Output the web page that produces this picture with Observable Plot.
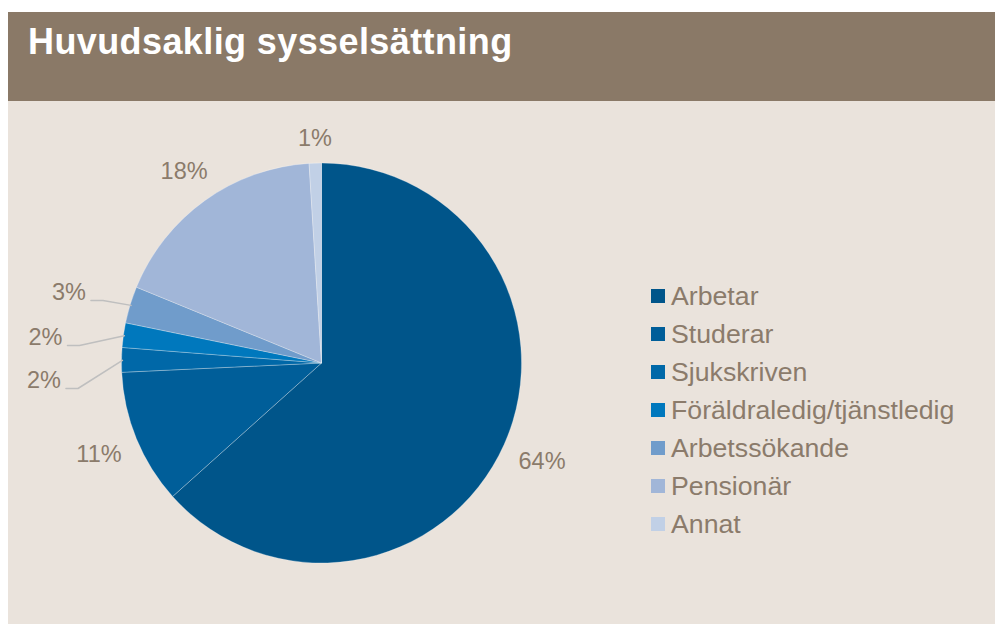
<!DOCTYPE html>
<html><head><meta charset="utf-8">
<script src="https://cdn.jsdelivr.net/npm/d3@7"></script>
<script src="https://cdn.jsdelivr.net/npm/@observablehq/plot@0.6"></script>
<style>
body{margin:0;background:#fff;font-family:"Liberation Sans",Arial,sans-serif;}
#wrap{position:absolute;left:8px;top:12px;width:987px;height:612px;background:#EAE3DC;overflow:hidden}
#title{position:absolute;left:0;top:0;width:987px;height:89px;background:#8A7967;}
#title span{position:absolute;left:20px;top:12px;font-weight:bold;font-size:36px;line-height:36px;letter-spacing:0.4px;color:#fff;white-space:nowrap}
#chart{position:absolute;left:0;top:89px}
.sw{position:absolute;width:14px;height:14px}
.lt{position:absolute;font-size:26.7px;line-height:26px;color:#8B7B6B;white-space:nowrap}
</style></head><body>
<div id="wrap"><div id="title"><span>Huvudsaklig sysselsättning</span></div><div id="chart"></div><div id="legend"></div></div>
<script>
// ---- data ----
const categories = ["Arbetar","Studerar","Sjukskriven","Föräldraledig/tjänstledig","Arbetssökande","Pensionär","Annat"];
const values = [64, 11, 2, 2, 3, 18, 1];
const colors = ["#00558A","#005E99","#0068A8","#0078BD","#709CCB","#A1B6D8","#C1D0E6"];
// manual label placement (unit-circle coordinates) for crowded small slices
const labelOverrides = {
  "Sjukskriven": [-1.39, -0.0825],
  "Föräldraledig/tjänstledig": [-1.3825, 0.1325],
  "Arbetssökande": [-1.265, 0.3575]
};

// ---- layout ----
const W = 987, H = 523, cx = 313.5, cy = 262, R = 200, FS = 23.5;
const labelColor = "#8B7B6B";

const rows = categories.map((c, i) => ({category: c, value: values[i], color: colors[i], label: values[i] + "%"}));
const arcs = d3.pie().sort(null).value(d => d.value)(rows);

const labelRows = [];
const leaderRows = [];
arcs.forEach((a, i) => {
  const mid = (a.startAngle + a.endAngle) / 2;
  const sx = Math.sin(mid), sy = Math.cos(mid);
  const txt = a.data.label;
  const halfW = ((txt.length - 1) * 0.556 + 0.889) * FS / 2;
  const halfH = 8.5;
  const ov = labelOverrides[a.data.category];
  if (ov) {
    labelRows.push({x: ov[0], y: ov[1], label: txt});
    const x1 = ov[0] + (halfW + 5) / R, y1 = ov[1] - halfH / R;
    const x2 = x1 + 12 / R;
    leaderRows.push({id: i, x: x1, y: y1}, {id: i, x: x2, y: y1}, {id: i, x: sx * 0.998, y: sy * 0.998});
  } else {
    const r = 1.08 + (Math.abs(sx) * halfW + Math.abs(sy) * halfH) / R;
    labelRows.push({x: sx * r, y: sy * r, label: txt});
  }
});

function pieMark(index, scales) {
  const fx = scales && scales.x ? scales.x : (v => cx + v * R);
  const fy = scales && scales.y ? scales.y : (v => cy - v * R);
  const x0 = fx(0), y0 = fy(0), r = fx(1) - x0;
  const arc = d3.arc().innerRadius(0).outerRadius(r);
  const g = d3.create("svg:g").attr("transform", `translate(${x0},${y0})`);
  g.selectAll("path").data(arcs).join("path")
    .attr("d", arc)
    .attr("fill", d => d.data.color)
    .attr("stroke", "#ffffff")
    .attr("stroke-opacity", 0.35)
    .attr("stroke-width", 0.8);
  return g.node();
}

const chart = Plot.plot({
  width: W, height: H, margin: 0,
  x: {domain: [-1, 1], range: [cx - R, cx + R], axis: null},
  y: {domain: [-1, 1], range: [cy + R, cy - R], axis: null},
  style: {background: "#EAE3DC", fontFamily: '"Liberation Sans", Arial, sans-serif', overflow: "visible"},
  marks: [
    pieMark,
    Plot.line(leaderRows, {x: "x", y: "y", z: "id", stroke: "#BFBFBF", strokeWidth: 1.5, curve: "linear"}),
    Plot.text(labelRows, {x: "x", y: "y", text: "label", fontSize: FS, fill: labelColor})
  ]
});
document.getElementById("chart").appendChild(chart);

// ---- legend ----
const legend = document.getElementById("legend");
const legLeft = 651 - 8, legTop = 289 - 12, legStep = 38;
rows.forEach((d, i) => {
  const top = legTop + i * legStep;
  const sw = document.createElement("div");
  sw.className = "sw";
  sw.style.left = legLeft + "px";
  sw.style.top = top + "px";
  sw.style.background = d.color;
  legend.appendChild(sw);
  const t = document.createElement("div");
  t.className = "lt";
  t.style.left = (legLeft + 20) + "px";
  t.style.top = (top - 6) + "px";
  t.textContent = d.category;
  legend.appendChild(t);
});
</script>
</body></html>
